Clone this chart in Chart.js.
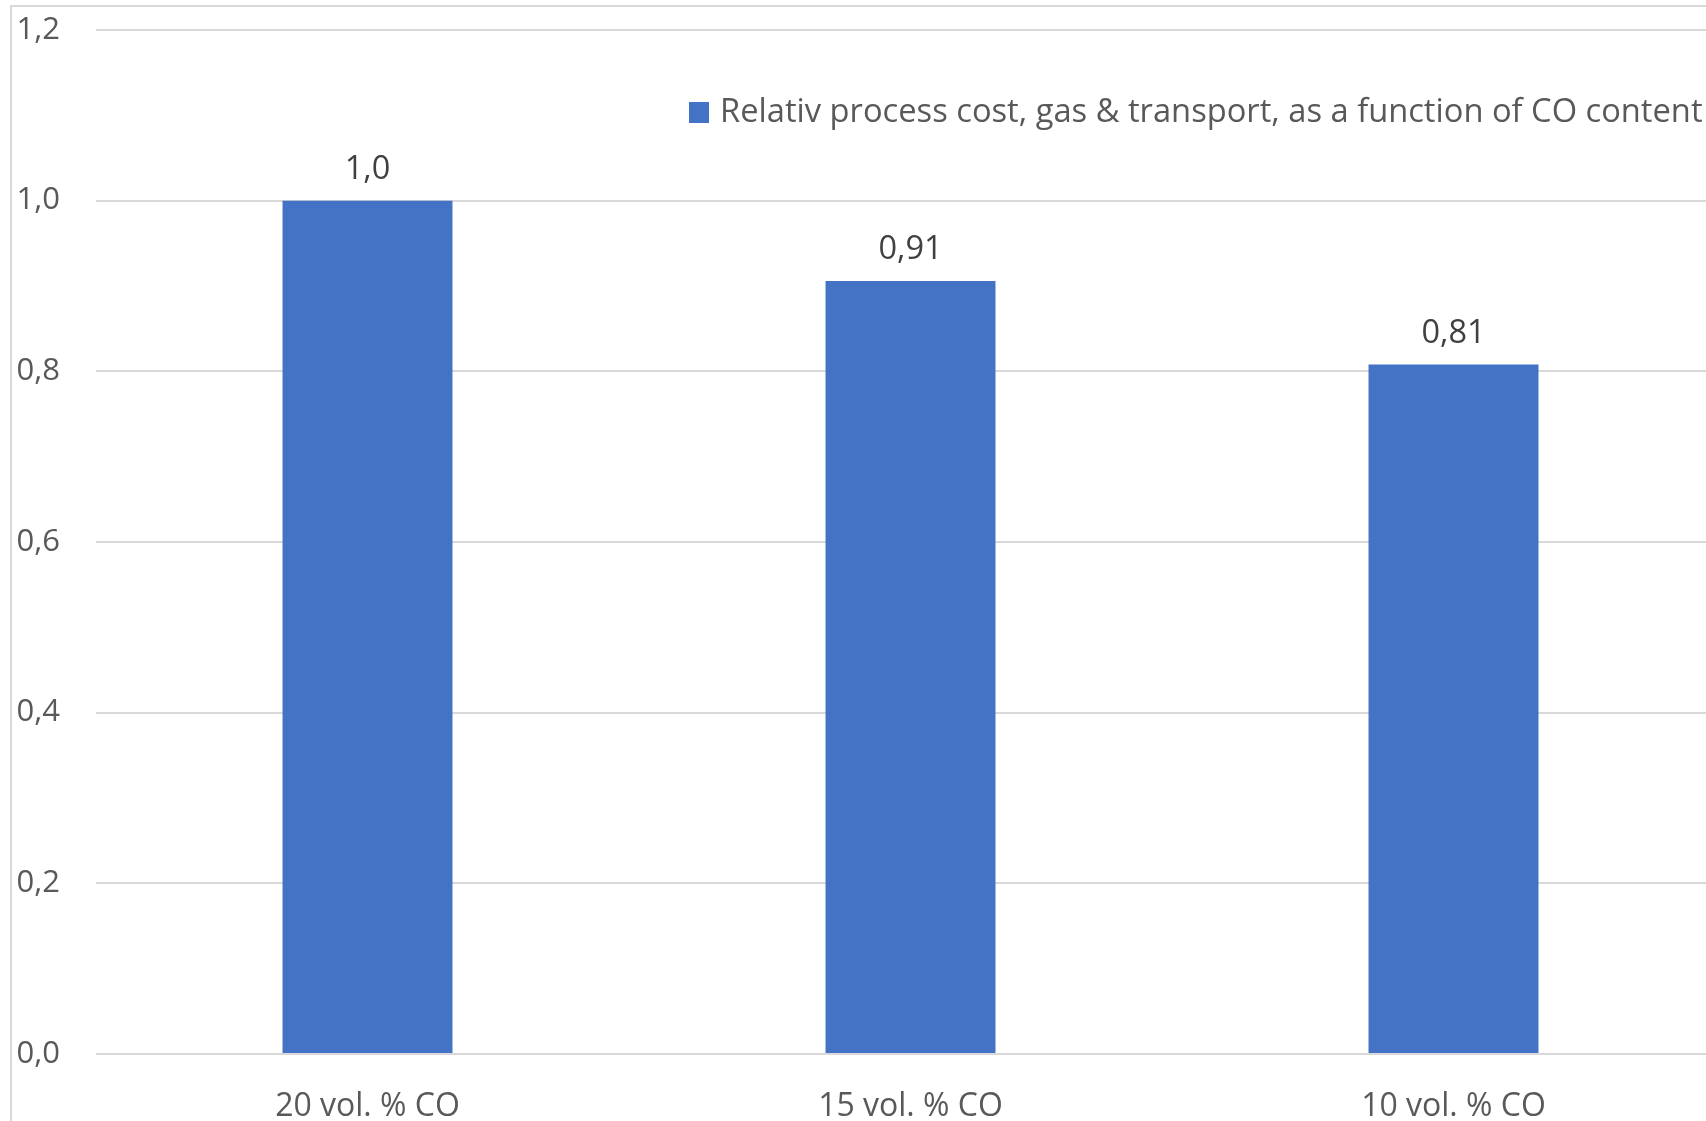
<!DOCTYPE html>
<html>
<head>
<meta charset="utf-8">
<script src="https://cdn.jsdelivr.net/npm/chart.js@4.4.1/dist/chart.umd.min.js"></script>
<style>
  html, body { margin: 0; padding: 0; background: #fff; overflow: hidden; }
  #frame {
    position: absolute; left: 10px; top: 5px;
    width: 1740px; height: 1140px;
    border: 2px solid #d9d9d9;
  }
</style>
</head>
<body>
<div id="frame"><canvas id="grafico" width="1740" height="1140"></canvas></div>
<script>
const categorias = ["20 vol. % CO", "15 vol. % CO", "10 vol. % CO"];
const valores = [1.0, 0.906, 0.808];
const rotulos = ["1,0", "0,91", "0,81"];
const ticksY = [0, 0.2, 0.4, 0.6, 0.8, 1.0, 1.2];
const serie = "Relativ process cost, gas & transport, as a function of CO content";

const fonte = "'Open Sans', sans-serif";
const corBarra = "#4472C4";

// rótulos de dados acima das barras
const rotulosPlugin = {
  id: "rotulos",
  afterDatasetsDraw(chart) {
    const ctx = chart.ctx;
    const meta = chart.getDatasetMeta(0);
    ctx.save();
    ctx.font = "32.5px " + fonte;
    ctx.fillStyle = "#404040";
    ctx.textAlign = "center";
    ctx.textBaseline = "middle";
    meta.data.forEach((bar, i) => {
      ctx.fillText(rotulos[i], bar.x, bar.y - 31);
    });
    ctx.restore();
  }
};

// legenda dentro da área do gráfico, como no Excel
const legendaPlugin = {
  id: "legenda",
  afterDraw(chart) {
    const ctx = chart.ctx;
    const ds = chart.data.datasets[0];
    const x = chart.chartArea.left + 593;
    const y = 105;
    ctx.save();
    let tamanho = 32;
    ctx.font = tamanho + "px " + fonte;
    const largura = ctx.measureText(ds.label).width;
    tamanho = tamanho * 983 / largura;
    ctx.font = tamanho + "px " + fonte;
    ctx.fillStyle = ds.backgroundColor;
    ctx.fillRect(x, y - 10, 20, 21);
    ctx.fillStyle = "#595959";
    ctx.textAlign = "left";
    ctx.textBaseline = "middle";
    ctx.fillText(ds.label, x + 31, y + 1);
    ctx.restore();
  }
};

new Chart(document.getElementById("grafico").getContext("2d"), {
  type: "bar",
  data: {
    labels: categorias,
    datasets: [{
      label: serie,
      data: valores,
      backgroundColor: corBarra,
      borderWidth: 0,
      categoryPercentage: 1,
      barPercentage: 0.313
    }]
  },
  options: {
    responsive: false,
    animation: false,
    layout: { padding: { left: 4, top: 23, right: 27, bottom: 25 } },
    plugins: {
      legend: { display: false },
      tooltip: { enabled: false }
    },
    scales: {
      x: {
        grid: { display: false, drawTicks: false },
        border: { display: false },
        ticks: {
          color: "#595959",
          font: { family: fonte, size: 32 },
          padding: 34,
          maxRotation: 0
        },
        afterFit: (scale) => {
          scale.height = 68;
          scale.paddingLeft = 0;
          scale.paddingRight = 0;
        }
      },
      y: {
        min: 0,
        max: 1.2,
        afterBuildTicks: (scale) => { scale.ticks = ticksY.map(v => ({ value: v })); },
        grid: { color: "#d9d9d9", lineWidth: 2, drawTicks: false },
        border: { display: false },
        ticks: {
          color: "#595959",
          font: { family: fonte, size: 31 },
          padding: 36,
          callback: (v) => v.toFixed(1).replace(".", ",")
        },
        afterFit: (scale) => {
          scale.width = 80;
          scale.paddingTop = 0;
          scale.paddingBottom = 0;
        }
      }
    }
  },
  plugins: [rotulosPlugin, legendaPlugin]
});
</script>
</body>
</html>
